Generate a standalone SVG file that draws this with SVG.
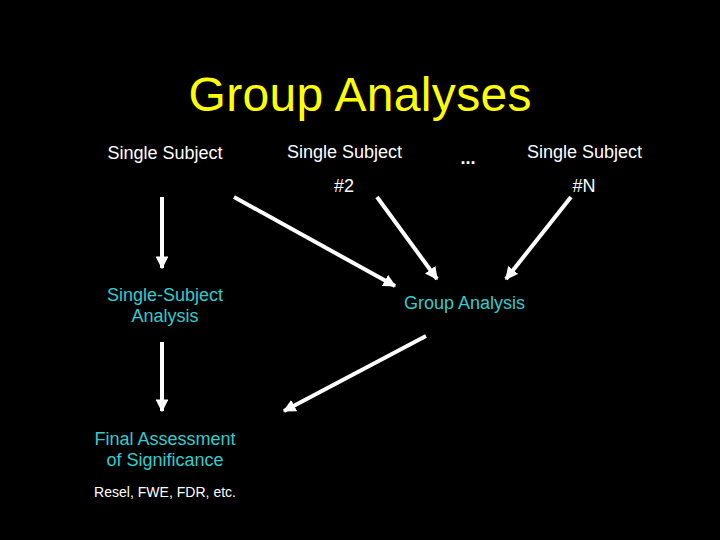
<svg xmlns="http://www.w3.org/2000/svg" width="720" height="540" viewBox="0 0 720 540">
<defs>
<marker id="ah" viewBox="0 0 10 10" refX="9" refY="5" markerWidth="3.2" markerHeight="3.2" orient="auto" markerUnits="strokeWidth">
<path d="M0,0 L10,5 L0,10 z" fill="#ffffff"/>
</marker>
<style>
text{font-family:"Liberation Sans",Arial,sans-serif;}
.w{fill:#ffffff;font-size:18px;text-anchor:middle;}
.c{fill:#33cccc;font-size:18px;text-anchor:middle;}
.t{fill:#ffff00;font-size:48px;text-anchor:middle;}
.s{fill:#ffffff;font-size:14px;}
.a{stroke:#ffffff;stroke-width:4;fill:none;marker-end:url(#ah);}
</style>
</defs>
<rect width="720" height="540" fill="#000000"/>
<text class="t" x="360" y="111" textLength="343">Group Analyses</text>
<g id="ss1"><text class="w" x="165" y="159">Single Subject</text></g>
<g id="ss2"><text class="w" x="344.5" y="158">Single Subject</text><text class="w" x="344" y="192">#2</text></g>
<g id="dots"><text class="w" x="468" y="164" font-weight="bold">...</text></g>
<g id="ssn"><text class="w" x="584.5" y="158">Single Subject</text><text class="w" x="584" y="192">#N</text></g>
<g id="ssa"><text class="c" x="165" y="301">Single-Subject</text><text class="c" x="165" y="322">Analysis</text></g>
<g id="ga"><text class="c" x="464.5" y="309">Group Analysis</text></g>
<g id="fas"><text class="c" x="165" y="445">Final Assessment</text><text class="c" x="165" y="466">of Significance</text>
<text class="s" x="94" y="497" textLength="142">Resel, FWE, FDR, etc.</text></g>
<g id="connectors">
<line class="a" x1="162" y1="197" x2="162" y2="268"/>
<line class="a" x1="162" y1="342" x2="162" y2="411"/>
<line class="a" x1="234" y1="197" x2="395" y2="286"/>
<line class="a" x1="377" y1="197" x2="437" y2="279"/>
<line class="a" x1="571" y1="197" x2="506" y2="279"/>
<line class="a" x1="426" y1="336" x2="284" y2="411"/>
</g>
</svg>
